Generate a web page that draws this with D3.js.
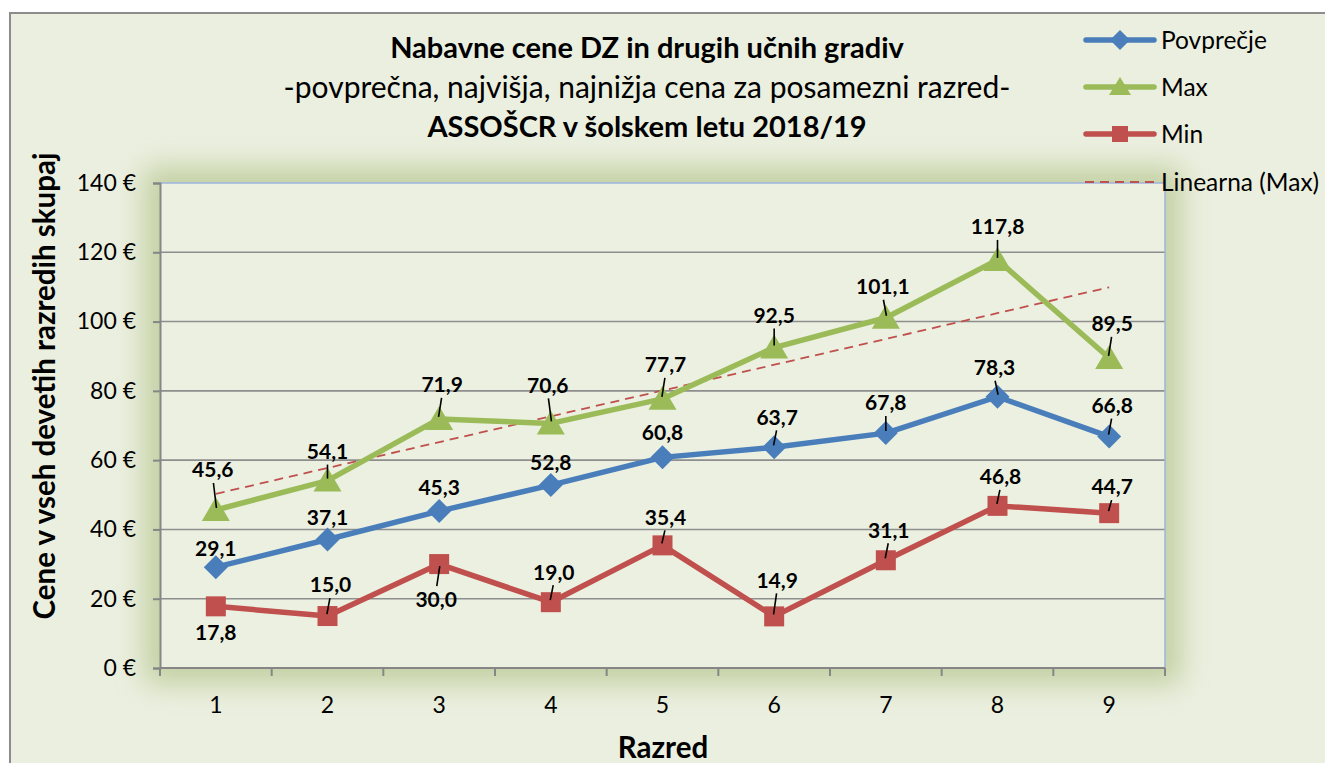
<!DOCTYPE html>
<html>
<head>
<meta charset="utf-8">
<script src="https://cdn.jsdelivr.net/npm/d3@7"></script>
<style>
  html, body { margin: 0; padding: 0; background: #ffffff; }
  svg { display: block; font-family: Lato, "Open Sans", sans-serif; }
</style>
</head>
<body>
<svg id="chart" width="1325" height="763"></svg>
<script>
// ---------- data ----------
const categories = ["1", "2", "3", "4", "5", "6", "7", "8", "9"];
const avgValues = [29.1, 37.1, 45.3, 52.8, 60.8, 63.7, 67.8, 78.3, 66.8];
const maxValues = [45.6, 54.1, 71.9, 70.6, 77.7, 92.5, 101.1, 117.8, 89.5];
const minValues = [17.8, 15.0, 30.0, 19.0, 35.4, 14.9, 31.1, 46.8, 44.7];
const yTicks = [0, 20, 40, 60, 80, 100, 120, 140];
const seriesNames = ["Povprečje", "Max", "Min", "Linearna (Max)"];
const titleLines = ["Nabavne cene DZ in drugih učnih gradiv",
                    "-povprečna, najvišja, najnižja cena za posamezni razred-",
                    "ASSOŠCR v šolskem letu 2018/19"];
const yAxisTitle = "Cene v vseh devetih razredih skupaj";
const xAxisTitle = "Razred";

// ---------- layout (label placement, not data) ----------
const labelDy = {
  avg: [-19, -22, -23, -22, -25, -30, -30, -29, -31],
  max: [-40, -29, -34, -38, -34, -32, -31, -33, -34],
  min: [26, -31, 36, -30, -28, -36, -30, -29, -26]
};
const labelDx = {
  avg: [0, 0, 0, 0, 0, 3, 0, -3, 3],
  max: [-3, 0, 3, -3, 3, 0, -3, 0, 3],
  min: [0, 3, -3, 3, 3, 3, 3, 3, 3]
};
const leader = {
  avg: [0, 0, 0, 0, 0, 1, 1, 1, 1],
  max: [1, 1, 1, 1, 1, 1, 1, 1, 1],
  min: [0, 1, 1, 1, 1, 1, 1, 1, 1]
};

const colors = { avg: "#4a7ebb", max: "#9bbb59", min: "#c0504d" };
const bg = "#ebefdf";

const svg = d3.select("#chart");
const W = 1325, H = 763;
const plot = { left: 160, top: 183, right: 1165, bottom: 668 };

// defs
const defs = svg.append("defs");
defs.append("filter").attr("id", "glow")
  .attr("x", "-20%").attr("y", "-20%").attr("width", "140%").attr("height", "140%")
  .append("feGaussianBlur").attr("stdDeviation", 14);

// chart area
svg.append("rect").attr("x", 10).attr("y", 13).attr("width", W + 20).attr("height", H + 20)
  .attr("fill", bg).attr("stroke", "#8c8c8c").attr("stroke-width", 2);

// glow
svg.append("rect")
  .attr("x", plot.left - 16).attr("y", plot.top - 16)
  .attr("width", plot.right - plot.left + 32).attr("height", plot.bottom - plot.top + 32)
  .attr("fill", "#bccb98").attr("opacity", 0.85).attr("filter", "url(#glow)");

// plot area
svg.append("rect")
  .attr("x", plot.left).attr("y", plot.top)
  .attr("width", plot.right - plot.left).attr("height", plot.bottom - plot.top)
  .attr("fill", "#ebf0e0");

const x = d3.scaleBand().domain(categories).range([plot.left, plot.right]).padding(0);
const y = d3.scaleLinear().domain([0, 140]).range([plot.bottom, plot.top]);
const cx = c => x(c) + x.bandwidth() / 2;

// gridlines
svg.append("g").selectAll("line").data(yTicks.filter(t => t > 0 && t < 140)).join("line")
  .attr("x1", plot.left).attr("x2", plot.right)
  .attr("y1", d => y(d)).attr("y2", d => y(d))
  .attr("stroke", "#8e8e8e").attr("stroke-width", 1.6);

// plot border top/right (light blue)
svg.append("path")
  .attr("d", `M${plot.left},${plot.top}H${plot.right}V${plot.bottom}`)
  .attr("fill", "none").attr("stroke", "#9db4de").attr("stroke-width", 1.5);

// y axis
const yAxis = d3.axisLeft(y).tickValues(yTicks).tickSize(7).tickPadding(17)
  .tickFormat(d => d + " €");
const gy = svg.append("g").attr("transform", `translate(${plot.left},0)`).call(yAxis);
gy.select(".domain").attr("stroke", "#868686").attr("stroke-width", 2);
gy.selectAll(".tick line").attr("stroke", "#868686").attr("stroke-width", 2);
gy.selectAll(".tick text").attr("font-family", "Lato, sans-serif").attr("font-size", 23)
  .attr("fill", "#000");

// x axis: ticks at category boundaries
const gx = svg.append("g").attr("transform", `translate(0,${plot.bottom})`);
gx.append("line").attr("x1", plot.left).attr("x2", plot.right)
  .attr("stroke", "#868686").attr("stroke-width", 2);
const bounds = categories.map(c => x(c)).concat([plot.right]);
gx.selectAll("line.tk").data(bounds).join("line").attr("class", "tk")
  .attr("x1", d => d).attr("x2", d => d).attr("y1", 0).attr("y2", 8)
  .attr("stroke", "#868686").attr("stroke-width", 2);
gx.selectAll("text").data(categories).join("text")
  .attr("x", d => cx(d)).attr("y", 37).attr("dy", "0.35em").attr("text-anchor", "middle")
  .attr("font-size", 23).attr("fill", "#000").text(d => d);

// trendline (least squares on Max)
const xs = maxValues.map((_, i) => i + 1);
const mx = d3.mean(xs), my = d3.mean(maxValues);
const slope = d3.sum(xs.map((xi, i) => (xi - mx) * (maxValues[i] - my))) /
              d3.sum(xs.map(xi => (xi - mx) ** 2));
const icpt = my - slope * mx;
svg.append("line")
  .attr("x1", cx(categories[0])).attr("y1", y(icpt + slope * 1))
  .attr("x2", cx(categories[8])).attr("y2", y(icpt + slope * 9))
  .attr("stroke", "#c0504d").attr("stroke-width", 1.8).attr("stroke-dasharray", "9,6");

// series
const series = [
  { key: "max", vals: maxValues, shape: "triangle" },
  { key: "avg", vals: avgValues, shape: "diamond" },
  { key: "min", vals: minValues, shape: "square" }
];
const line = d3.line().x((d, i) => cx(categories[i])).y(d => y(d));
const marker = shape => {
  if (shape === "diamond") return "M0,-12L12,0L0,12L-12,0Z";
  if (shape === "triangle") return "M0,-13L14,11L-14,11Z";
  return "M-10,-10H10V10H-10Z";
};
series.forEach(s => {
  svg.append("path").datum(s.vals).attr("d", line)
    .attr("fill", "none").attr("stroke", colors[s.key]).attr("stroke-width", 5.5)
    .attr("stroke-linejoin", "round");
  svg.append("g").selectAll("path").data(s.vals).join("path")
    .attr("transform", (d, i) => `translate(${cx(categories[i])},${y(d)})`)
    .attr("d", marker(s.shape)).attr("fill", colors[s.key]);
});

// labels + leader lines
series.forEach(s => {
  s.vals.forEach((v, i) => {
    const px = cx(categories[i]), py = y(v);
    const dy = labelDy[s.key][i], dx = labelDx[s.key][i];
    const lx = px + dx, ly = py + dy;
    if (leader[s.key][i]) {
      const above = dy < 0;
      const y1 = above ? ly + 13 : ly - 14;
      const y2 = above ? py - 2 : py + 2;
      svg.append("line").attr("x1", lx - dx * 0.2).attr("y1", y1)
        .attr("x2", px - dx * 0.2).attr("y2", y2)
        .attr("stroke", "#000").attr("stroke-width", 1.6);
    }
    svg.append("text").attr("x", lx).attr("y", ly).attr("dy", "0.35em")
      .attr("text-anchor", "middle").attr("font-size", 21).attr("font-weight", "bold")
      .attr("fill", "#000").text(d3.format(".1f")(v).replace(".", ","));
  });
});

// titles
const tf = [{ s: 29, w: "bold", y: 58 }, { s: 30, w: "normal", y: 98 }, { s: 29, w: "bold", y: 137 }];
titleLines.forEach((t, i) => {
  svg.append("text").attr("x", 647).attr("y", tf[i].y).attr("text-anchor", "middle")
    .attr("font-size", tf[i].s).attr("font-weight", tf[i].w).attr("fill", "#000").text(t);
});
svg.append("text").attr("transform", `translate(45,386) rotate(-90)`).attr("dy", "0.35em")
  .attr("text-anchor", "middle").attr("font-size", 29.5).attr("font-weight", "bold")
  .attr("fill", "#000").text(yAxisTitle);
svg.append("text").attr("x", 663).attr("y", 748).attr("dy", "0.35em").attr("text-anchor", "middle")
  .attr("font-size", 29.5).attr("font-weight", "bold").attr("fill", "#000").text(xAxisTitle);

// legend
const legRows = [
  { name: seriesNames[0], key: "avg", y: 40 },
  { name: seriesNames[1], key: "max", y: 87 },
  { name: seriesNames[2], key: "min", y: 134 },
  { name: seriesNames[3], key: "trend", y: 182 }
];
const lg = svg.append("g");
legRows.forEach(r => {
  if (r.key === "trend") {
    lg.append("line").attr("x1", 1085).attr("x2", 1155).attr("y1", r.y).attr("y2", r.y)
      .attr("stroke", "#c0504d").attr("stroke-width", 1.8).attr("stroke-dasharray", "9,6");
  } else {
    lg.append("line").attr("x1", 1086).attr("x2", 1154).attr("y1", r.y).attr("y2", r.y)
      .attr("stroke", colors[r.key]).attr("stroke-width", 5.5).attr("stroke-linecap", "round");
    const m = r.key === "avg" ? "M0,-10L10,0L0,10L-10,0Z"
            : r.key === "max" ? "M0,-10L11,8L-11,8Z" : "M-8,-8H8V8H-8Z";
    lg.append("path").attr("transform", `translate(1120,${r.y})`).attr("d", m)
      .attr("fill", colors[r.key]);
  }
  lg.append("text").attr("x", 1161).attr("y", r.y).attr("dy", "0.35em")
    .attr("font-size", 24.5).attr("fill", "#000").text(r.name);
});
</script>
</body>
</html>
